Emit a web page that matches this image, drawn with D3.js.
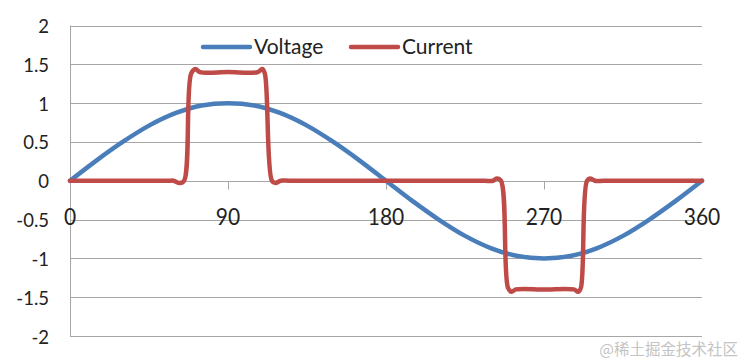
<!DOCTYPE html>
<html>
<head>
<meta charset="utf-8">
<script src="https://cdn.jsdelivr.net/npm/d3@7"></script>
<style>
  html, body { margin: 0; padding: 0; background: #fff; }
  svg { display: block; }
  text { font-family: Lato, "Open Sans", sans-serif; fill: #222; }
</style>
</head>
<body>
<div class="chart-container"></div>
<script>
'use strict';

// angle in degrees for the voltage trace
var voltageDeg = [0, 15, 30, 45, 60, 75, 90, 105, 120, 135, 150, 165, 180,
  195, 210, 225, 240, 255, 270, 285, 300, 315, 330, 345, 360];
var voltageVal = [0, 0.26, 0.5, 0.71, 0.87, 0.97, 1, 0.97, 0.87, 0.71, 0.5, 0.26, 0,
  -0.26, -0.5, -0.71, -0.87, -0.97, -1, -0.97, -0.87, -0.71, -0.5, -0.26, 0];

// current trace (pulse with small ringing at edges)
var currentDeg = [0, 30, 56, 59, 62.5, 65, 69, 71.5, 74, 90, 107, 109.5, 111, 115, 117, 120,
  125, 150, 180, 210, 236, 241, 243, 245.5, 249.5, 251.5, 254, 270, 287, 289.5, 291, 294.5,
  296.5, 299, 304, 330, 360];
var currentVal = [0, 0, 0, 0, -0.03, 0, 1.38, 1.44, 1.4, 1.4, 1.4, 1.44, 1.38, 0, -0.03, 0,
  0, 0, 0, 0, 0, 0, 0.03, 0, -1.38, -1.43, -1.4, -1.4, -1.4, -1.43, -1.38, 0,
  0.03, 0, 0, 0, 0];

var xTicks = [0, 90, 180, 270, 360];
var yTicks = [-2, -1.5, -1, -0.5, 0, 0.5, 1, 1.5, 2];
var seriesNames = ['Voltage', 'Current'];
var seriesColors = ['#4a7ebb', '#be4b48'];

var width = 741, height = 364;
var plot = { left: 70, right: 702, top: 25.5, bottom: 336 };

var x = d3.scaleLinear().domain([0, 360]).range([plot.left, plot.right]);
var y = d3.scaleLinear().domain([-2, 2]).range([plot.bottom, plot.top]);

var svg = d3.select('.chart-container').append('svg')
  .attr('width', width)
  .attr('height', height);

// horizontal gridlines
svg.append('g')
  .selectAll('line')
  .data(yTicks)
  .enter()
  .append('line')
  .attr('x1', plot.left)
  .attr('x2', plot.right)
  .attr('y1', function (d) { return Math.round(y(d)) + 0.5; })
  .attr('y2', function (d) { return Math.round(y(d)) + 0.5; })
  .attr('stroke', '#a6a6a6')
  .attr('stroke-width', 1);

// vertical axis line
svg.append('line')
  .attr('x1', plot.left + 0.5)
  .attr('x2', plot.left + 0.5)
  .attr('y1', y(2))
  .attr('y2', y(-2))
  .attr('stroke', '#a6a6a6');

// y tick labels
svg.append('g')
  .selectAll('text')
  .data(yTicks)
  .enter()
  .append('text')
  .attr('x', 49)
  .attr('y', function (d) { return y(d) + 7.5; })
  .attr('text-anchor', 'end')
  .style('font-size', '18.5px')
  .text(function (d) { return d; });

// x axis ticks on the zero line
var y0 = Math.round(y(0)) + 0.5;
svg.append('g')
  .selectAll('line')
  .data(xTicks.slice(1, -1))
  .enter()
  .append('line')
  .attr('x1', function (d) { return Math.round(x(d)) + 0.5; })
  .attr('x2', function (d) { return Math.round(x(d)) + 0.5; })
  .attr('y1', y0)
  .attr('y2', y0 + 8)
  .attr('stroke', '#a6a6a6');

svg.append('g')
  .selectAll('text')
  .data(xTicks)
  .enter()
  .append('text')
  .attr('transform', function (d) { return 'translate(' + x(d) + ',224.5) scale(1,1.12)'; })
  .attr('text-anchor', 'middle')
  .style('font-size', '21px')
  .text(function (d) { return d; });

// series lines
var line = d3.line()
  .x(function (d) { return x(d[0]); })
  .y(function (d) { return y(d[1]); })
  .curve(d3.curveCatmullRom.alpha(0.5));

var voltage = d3.zip(voltageDeg, voltageVal);
var current = d3.zip(currentDeg, currentVal);

svg.append('path')
  .datum(voltage)
  .attr('d', line)
  .attr('fill', 'none')
  .attr('stroke', seriesColors[0])
  .attr('stroke-width', 4.5)
  .attr('stroke-linejoin', 'round')
  .attr('stroke-linecap', 'round');

svg.append('path')
  .datum(current)
  .attr('d', line)
  .attr('fill', 'none')
  .attr('stroke', seriesColors[1])
  .attr('stroke-width', 4.5)
  .attr('stroke-linejoin', 'round')
  .attr('stroke-linecap', 'round');

// legend
var legendX = [203, 351];
var legend = svg.append('g')
  .selectAll('g')
  .data(seriesNames)
  .enter()
  .append('g')
  .attr('transform', function (d, i) { return 'translate(' + legendX[i] + ',47)'; });

legend.append('line')
  .attr('x1', 0)
  .attr('x2', 47)
  .attr('stroke', function (d, i) { return seriesColors[i]; })
  .attr('stroke-width', 4.5)
  .attr('stroke-linecap', 'round');

legend.append('text')
  .attr('x', 51)
  .attr('y', 7)
  .style('font-size', '21px')
  .text(function (d) { return d; });

// watermark
svg.append('text')
  .attr('x', 738)
  .attr('y', 355)
  .attr('text-anchor', 'end')
  .style('font-family', '"Noto Sans CJK SC", sans-serif')
  .style('font-size', '15.5px')
  .style('fill', '#c4c4c4')
  .text('@稀土掘金技术社区');
</script>
</body>
</html>
